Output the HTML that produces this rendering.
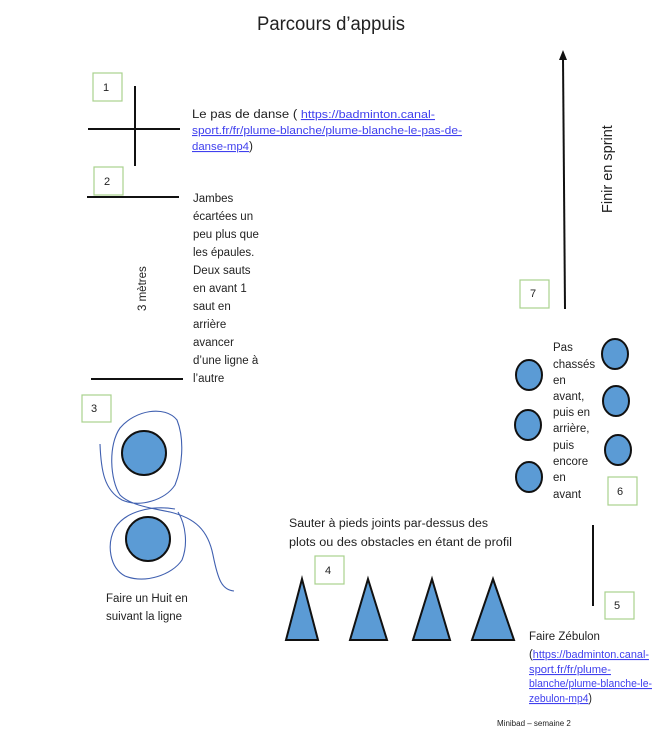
<!DOCTYPE html>
<html><head><meta charset="utf-8"><style>
html,body{margin:0;padding:0;background:#fff;}
svg{display:block;}
text{font-family:"Liberation Sans",sans-serif;fill:#222;}
.t{font-size:11.5px;}
.l{font-size:11px;fill:#4040ee;text-decoration:underline;}
.n{font-size:11px;}
</style></head><body>
<svg width="665" height="736" viewBox="0 0 665 736" xmlns="http://www.w3.org/2000/svg">
<text x="257" y="30" font-size="19" textLength="148" lengthAdjust="spacingAndGlyphs">Parcours d’appuis</text>

<rect x="93" y="73" width="29" height="28" fill="none" stroke="#a9d18e" stroke-width="1.2"/>
<text class="n" x="103" y="91">1</text>
<line x1="135" y1="86" x2="135" y2="166" stroke="#111" stroke-width="2"/>
<line x1="88" y1="129" x2="180" y2="129" stroke="#111" stroke-width="2"/>
<text class="t" x="192" y="118" textLength="243" lengthAdjust="spacingAndGlyphs">Le pas de danse ( <tspan class="l">https://badminton.canal-</tspan></text>
<text class="l" x="192" y="134" textLength="270" lengthAdjust="spacingAndGlyphs">sport.fr/fr/plume-blanche/plume-blanche-le-pas-de-</text>
<text class="t" x="192" y="150" textLength="61" lengthAdjust="spacingAndGlyphs"><tspan class="l">danse-mp4</tspan>)</text>

<rect x="94" y="167" width="29" height="28" fill="none" stroke="#a9d18e" stroke-width="1.2"/>
<text class="n" x="104" y="185">2</text>
<line x1="87" y1="197" x2="179" y2="197" stroke="#111" stroke-width="2"/>
<line x1="91" y1="379" x2="183" y2="379" stroke="#111" stroke-width="2"/>
<text class="t" transform="translate(146,311) rotate(-90)">3 mètres</text>
<g class="t">
<text x="193" y="202">Jambes</text>
<text x="193" y="220">écartées un</text>
<text x="193" y="238">peu plus que</text>
<text x="193" y="256">les épaules.</text>
<text x="193" y="274">Deux sauts</text>
<text x="193" y="292">en avant 1</text>
<text x="193" y="310">saut en</text>
<text x="193" y="328">arrière</text>
<text x="193" y="346">avancer</text>
<text x="193" y="364">d’une ligne à</text>
<text x="193" y="382">l’autre</text>
</g>

<rect x="82" y="395" width="29" height="27" fill="none" stroke="#a9d18e" stroke-width="1.2"/>
<text class="n" x="91" y="412">3</text>
<circle cx="144" cy="453" r="22" fill="#5b9bd5" stroke="#111" stroke-width="2"/>
<circle cx="148" cy="539" r="22" fill="#5b9bd5" stroke="#111" stroke-width="2"/>
<path d="M100,444 C101,470 104,490 122,500 C140,508 165,500 175,485 C182,468 185,440 177,420 C165,405 135,410 120,428 C108,445 110,480 120,495 C130,505 150,508 170,512 C195,518 208,530 213,555 C218,580 222,590 234,591" fill="none" stroke="#4060b0" stroke-width="1.1"/>
<path d="M175,509 C150,505 125,512 115,528 C106,545 110,568 125,576 C145,584 172,575 182,560 C188,545 186,525 178,512" fill="none" stroke="#4060b0" stroke-width="1.1"/>
<text class="t" x="106" y="602">Faire un Huit en</text>
<text class="t" x="106" y="620">suivant la ligne</text>

<text class="t" x="289" y="527" textLength="199" lengthAdjust="spacingAndGlyphs">Sauter à pieds joints par-dessus des</text>
<text class="t" x="289" y="546" textLength="223" lengthAdjust="spacingAndGlyphs">plots ou des obstacles en étant de profil</text>
<rect x="315" y="556" width="29" height="28" fill="none" stroke="#a9d18e" stroke-width="1.2"/>
<text class="n" x="325" y="574">4</text>
<g fill="#5b9bd5" stroke="#111" stroke-width="2" stroke-linejoin="miter">
<polygon points="302,579 318,640 286,640"/>
<polygon points="368,579 387,640 350,640"/>
<polygon points="432,579 450,640 413,640"/>
<polygon points="493,579 514,640 472,640"/>
</g>

<line x1="593" y1="525" x2="593" y2="606" stroke="#111" stroke-width="2"/>
<rect x="605" y="592" width="29" height="27" fill="none" stroke="#a9d18e" stroke-width="1.2"/>
<text class="n" x="614" y="609">5</text>
<text class="t" x="529" y="640">Faire Zébulon</text>
<text class="t" x="529" y="658" textLength="120" lengthAdjust="spacingAndGlyphs">(<tspan class="l">https://badminton.canal-</tspan></text>
<text class="l" x="529" y="673" textLength="82" lengthAdjust="spacingAndGlyphs">sport.fr/fr/plume-</text>
<text class="l" x="529" y="687" textLength="123" lengthAdjust="spacingAndGlyphs">blanche/plume-blanche-le-</text>
<text class="t" x="529" y="702" textLength="63" lengthAdjust="spacingAndGlyphs"><tspan class="l">zebulon-mp4</tspan>)</text>
<text x="497" y="726" font-size="8">Minibad – semaine 2</text>

<g fill="#5b9bd5" stroke="#111" stroke-width="2">
<ellipse cx="529" cy="375" rx="13" ry="15"/>
<ellipse cx="528" cy="425" rx="13" ry="15"/>
<ellipse cx="529" cy="477" rx="13" ry="15"/>
<ellipse cx="615" cy="354" rx="13" ry="15"/>
<ellipse cx="616" cy="401" rx="13" ry="15"/>
<ellipse cx="618" cy="450" rx="13" ry="15"/>
</g>
<g class="t">
<text x="553" y="351">Pas</text>
<text x="553" y="368">chassés</text>
<text x="553" y="384">en</text>
<text x="553" y="400">avant,</text>
<text x="553" y="416">puis en</text>
<text x="553" y="432">arrière,</text>
<text x="553" y="449">puis</text>
<text x="553" y="465">encore</text>
<text x="553" y="481">en</text>
<text x="553" y="498">avant</text>
</g>
<rect x="608" y="477" width="29" height="28" fill="none" stroke="#a9d18e" stroke-width="1.2"/>
<text class="n" x="617" y="495">6</text>

<rect x="520" y="280" width="29" height="28" fill="none" stroke="#a9d18e" stroke-width="1.2"/>
<text class="n" x="530" y="297">7</text>
<line x1="565" y1="309" x2="563" y2="58" stroke="#111" stroke-width="2"/>
<polygon points="563,50 559,60 567,60" fill="#111"/>
<text transform="translate(612,213) rotate(-90)" font-size="14.5">Finir en sprint</text>
</svg>
</body></html>
